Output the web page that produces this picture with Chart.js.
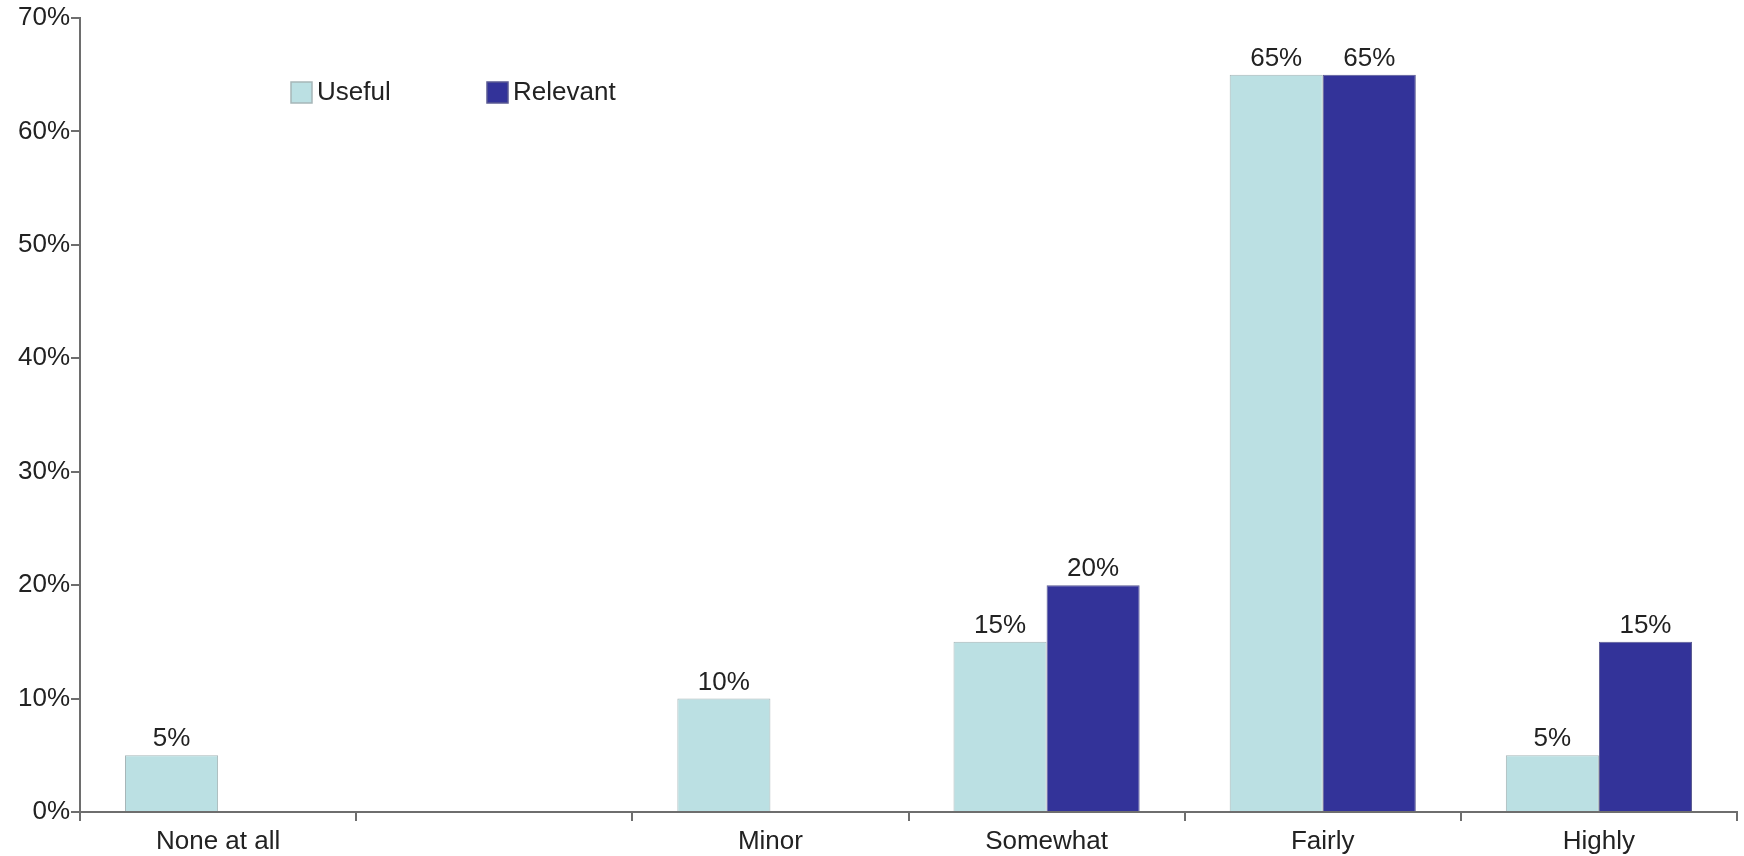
<!DOCTYPE html>
<html>
<head>
<meta charset="utf-8">
<title>Useful vs Relevant</title>
<script src="https://cdn.jsdelivr.net/npm/chart.js@4.4.1/dist/chart.umd.min.js"></script>
<style>
    html, body { margin: 0; padding: 0; background: #fff; }
    #wrap { width: 1744px; height: 856px; }
</style>
</head>
<body>
<div id="wrap"><canvas id="chart" width="1744" height="856"></canvas></div>
<script>
    // data
    const categories = ['None at all', '', 'Minor', 'Somewhat', 'Fairly', 'Highly'];
    const usefulValues = [5, null, 10, 15, 65, 5];
    const relevantValues = [0, null, 0, 20, 65, 15];
    const yTicks = [0, 10, 20, 30, 40, 50, 60, 70];

    const FONT = '"Liberation Sans", Arial, sans-serif';
    const AXIS = '#6e6e6e';

    // value labels above each bar
    const barLabels = {
        id: 'barLabels',
        afterDatasetsDraw: function(chart) {
            const ctx = chart.ctx;
            ctx.save();
            ctx.font = '26px ' + FONT;
            ctx.fillStyle = '#222';
            ctx.textAlign = 'center';
            ctx.textBaseline = 'bottom';
            chart.data.datasets.forEach((ds, i) => {
                chart.getDatasetMeta(i).data.forEach((bar, j) => {
                    const v = ds.data[j];
                    if (!v) return;
                    ctx.fillText(v + '%', bar.x, bar.y - 3);
                });
            });
            ctx.restore();
        }
    };

    // legend sits inside the plot, upper left
    const plotLegend = {
        id: 'plotLegend',
        afterDraw: function(chart) {
            const ctx = chart.ctx;
            const items = [
                { x: 291, ds: chart.data.datasets[0] },
                { x: 487, ds: chart.data.datasets[1] }
            ];
            ctx.save();
            ctx.font = '26px ' + FONT;
            ctx.textBaseline = 'middle';
            ctx.textAlign = 'left';
            items.forEach(it => {
                ctx.fillStyle = it.ds.backgroundColor;
                ctx.fillRect(it.x, 82, 21, 21);
                ctx.strokeStyle = it.ds.borderColor;
                ctx.lineWidth = 1.5;
                ctx.strokeRect(it.x, 82, 21, 21);
                ctx.fillStyle = '#222';
                ctx.fillText(it.ds.label, it.x + 26, 93);
            });
            ctx.restore();
        }
    };

    new Chart(document.getElementById('chart'), {
        type: 'bar',
        data: {
            labels: categories,
            datasets: [{
                label: 'Useful',
                data: usefulValues,
                backgroundColor: '#bbe0e3',
                borderColor: '#a6b6b8',
                borderWidth: 1
            }, {
                label: 'Relevant',
                data: relevantValues,
                backgroundColor: '#333399',
                borderColor: '#5a5a92',
                borderWidth: 1
            }]
        },
        options: {
            responsive: false,
            animation: false,
            layout: { padding: { top: 18, right: 7, left: 0, bottom: 0 } },
            datasets: {
                bar: { categoryPercentage: 0.674, barPercentage: 1.0 }
            },
            plugins: {
                legend: { display: false },
                tooltip: { enabled: false }
            },
            scales: {
                x: {
                    grid: {
                        offset: true,
                        drawOnChartArea: false,
                        color: AXIS,
                        lineWidth: 2,
                        tickLength: 9
                    },
                    border: { color: AXIS, width: 2 },
                    ticks: {
                        color: '#222',
                        font: { family: FONT, size: 26 },
                        padding: 5,
                        maxRotation: 0,
                        autoSkip: false
                    },
                    afterFit: function(scale) { scale.height = 44; }
                },
                y: {
                    min: 0,
                    max: 70,
                    afterBuildTicks: function(scale) {
                        scale.ticks = yTicks.map(v => ({ value: v }));
                    },
                    grid: {
                        drawOnChartArea: false,
                        color: AXIS,
                        lineWidth: 2,
                        tickLength: 9
                    },
                    border: { color: AXIS, width: 2 },
                    ticks: {
                        color: '#222',
                        font: { family: FONT, size: 26 },
                        padding: 1,
                        callback: v => v + '%'
                    },
                    afterFit: function(scale) { scale.width = 80; }
                }
            }
        },
        plugins: [barLabels, plotLegend]
    });
</script>
</body>
</html>
